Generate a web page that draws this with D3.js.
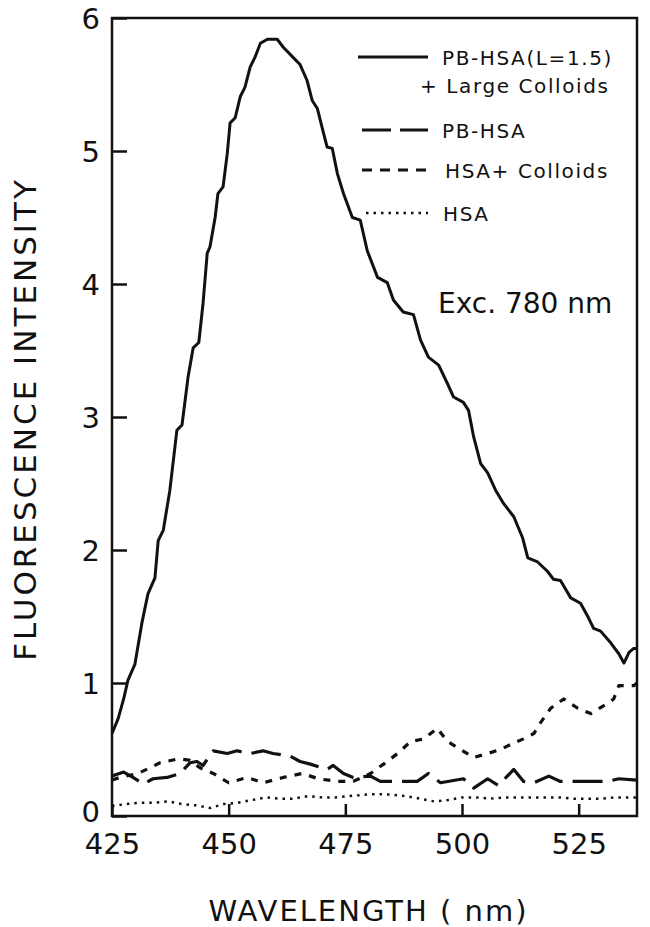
<!DOCTYPE html>
<html>
<head>
<meta charset="utf-8">
<script src="https://cdn.jsdelivr.net/npm/d3@7"></script>
<style>
  body { margin: 0; background: #fff; }
  text { font-family: "DejaVu Sans", sans-serif; fill: #111; }
</style>
</head>
<body>
<div id="chart"></div>
<script>
// solid curve: PB-HSA (L=1.5) + Large Colloids
var mainWl = [425, 426.3, 427.5, 428.4, 429.9, 431.4, 432.7, 434.2, 434.9, 436, 437.4, 438.9, 440, 441.3, 442.4, 443.6, 444.5,
  445.4, 446, 447.1, 447.7, 448.8, 449.7, 450.3, 451.4, 452.5, 453.5, 454.6, 455.7, 456.8, 458.3, 460.4, 461.7, 462.8,
  463.9, 465.3, 466.8, 467.9, 469, 470, 471.1, 472.2, 473.3, 474.6, 476.5, 478.2, 479.7, 481.9, 484, 485.3, 487.4,
  489.6, 491.1, 492.8, 495, 496.9, 498.2, 500.3, 501.4, 502.5, 504, 505.5, 507.2, 508.9, 511.1, 513, 514.1, 516.2,
  518.3, 519.6, 521.1, 523.3, 525.4, 527.1, 528.2, 529.7, 531.9, 533.6, 534.7, 535.8, 536.8, 537.5];
var mainVal = [0.62, 0.73, 0.88, 1.02, 1.14, 1.45, 1.67, 1.79, 2.07, 2.15, 2.45, 2.9, 2.94, 3.3, 3.52, 3.56, 3.85,
  4.23, 4.28, 4.5, 4.68, 4.73, 4.98, 5.21, 5.25, 5.41, 5.48, 5.63, 5.71, 5.81, 5.84, 5.84, 5.78, 5.74,
  5.7, 5.65, 5.53, 5.38, 5.32, 5.18, 5.03, 5.02, 4.83, 4.68, 4.5, 4.48, 4.25, 4.05, 4.01, 3.88, 3.79,
  3.77, 3.58, 3.45, 3.39, 3.25, 3.15, 3.11, 3.05, 2.85, 2.65, 2.58, 2.45, 2.35, 2.25, 2.09, 1.94, 1.91,
  1.84, 1.78, 1.77, 1.64, 1.6, 1.49, 1.41, 1.39, 1.3, 1.22, 1.15, 1.23, 1.26, 1.26];

// long dash: PB-HSA
var pbWl = [425, 427.5, 429.5, 431.7, 433.8, 436.8, 439.6, 441.7, 443.2, 444.5, 446.7, 449.7, 451.8, 454.6, 457.4, 459.5,
  463.2, 465.3, 467.5, 471.1, 472.4, 474.6, 476.7, 480.4, 482.5, 486.8, 490.4, 492.8, 495.4, 500.3, 502.5, 505.5,
  507.8, 511.1, 513.2, 515.4, 518.6, 521.1, 523.9, 527.6, 531.2, 533.6, 537.5];
var pbVal = [0.3, 0.33, 0.29, 0.24, 0.28, 0.29, 0.32, 0.4, 0.41, 0.38, 0.49, 0.47, 0.49, 0.47, 0.49, 0.47,
  0.45, 0.41, 0.39, 0.35, 0.38, 0.32, 0.29, 0.3, 0.26, 0.26, 0.26, 0.32, 0.25, 0.28, 0.21, 0.28,
  0.23, 0.35, 0.26, 0.25, 0.3, 0.26, 0.26, 0.26, 0.26, 0.28, 0.27];

// short dash: HSA + Colloids
var colWl = [425, 426.7, 430.6, 435.3, 439.2, 441.5, 444, 446.7, 450, 454, 457.4, 461.7, 465.8, 469.2, 473.3, 476.7,
  480.4, 483.2, 486.2, 489, 491.8, 494.7, 496.9, 499.7, 502.5, 505.5, 508.3, 511.1, 513.2, 515.4, 516.8, 519,
  521.8, 524.8, 527.6, 530.4, 532.5, 533.6, 536.8, 537.5];
var colVal = [0.27, 0.29, 0.32, 0.4, 0.43, 0.42, 0.36, 0.32, 0.25, 0.29, 0.25, 0.29, 0.32, 0.28, 0.26, 0.26,
  0.32, 0.39, 0.47, 0.56, 0.58, 0.66, 0.56, 0.5, 0.44, 0.47, 0.5, 0.55, 0.58, 0.62, 0.7, 0.81,
  0.88, 0.81, 0.77, 0.83, 0.88, 0.98, 0.98, 1.0];

// dotted: HSA
var hsaWl = [425, 428, 431, 434, 437, 440, 443, 446, 449, 452, 455, 458, 461, 464, 467, 470, 473, 476, 479, 482,
  485, 488, 491, 494, 497, 500, 503, 506, 509, 512, 515, 518, 521, 524, 527, 530, 533, 537.5];
var hsaVal = [0.075, 0.09, 0.1, 0.1, 0.11, 0.09, 0.08, 0.06, 0.09, 0.1, 0.12, 0.14, 0.13, 0.13, 0.15, 0.14, 0.14, 0.15, 0.16, 0.165,
  0.16, 0.15, 0.13, 0.11, 0.12, 0.14, 0.14, 0.13, 0.14, 0.14, 0.14, 0.14, 0.14, 0.13, 0.13, 0.13, 0.14, 0.14];

var xTicks = [425, 450, 475, 500, 525];
var yTicks = [0, 1, 2, 3, 4, 5, 6];

var margin = {top: 18, right: 13, bottom: 111, left: 112},
    width = 650 - margin.left - margin.right,
    height = 927 - margin.top - margin.bottom;

var x = d3.scaleLinear().domain([425, 537.5]).range([0, width]);
var y = d3.scaleLinear().domain([0, 6]).range([height, 0]);

var svg = d3.select("#chart")
    .append("svg")
    .attr("width", 650)
    .attr("height", 927)
    .append("g")
    .attr("transform", "translate(" + margin.left + "," + margin.top + ")");

// frame
svg.append("rect")
    .attr("width", width)
    .attr("height", height)
    .attr("fill", "none")
    .attr("stroke", "#111")
    .attr("stroke-width", 2.5);

// axes, ticks pointing inwards
var xAxis = d3.axisBottom(x).tickValues(xTicks).tickFormat(d3.format("d"))
    .tickSizeInner(-12).tickSizeOuter(0).tickPadding(17);
var yAxis = d3.axisLeft(y).tickValues(yTicks).tickFormat(d3.format("d"))
    .tickSizeInner(-15).tickSizeOuter(0).tickPadding(12);

var gx = svg.append("g")
    .attr("transform", "translate(0," + height + ")")
    .call(xAxis);
var gy = svg.append("g").call(yAxis);

[gx, gy].forEach(function(g) {
  g.select(".domain").remove();
  g.selectAll("line").attr("stroke", "#111").attr("stroke-width", 2.5);
  g.selectAll("text")
    .style("font-family", "DejaVu Sans")
    .style("font-size", "29px")
    .attr("fill", "#111");
});
gx.selectAll("text").attr("dy", "0.71em");
gy.selectAll("text").attr("dy", "0.36em");
// the zero label sits a touch higher so it clears "425"
gy.selectAll("text").filter(function(d) { return d === 0; }).attr("dy", "0.2em");

// labels
svg.append("text")
    .attr("x", width / 2 - 6)
    .attr("y", height + 105)
    .attr("text-anchor", "middle")
    .style("font-size", "29px")
    .style("letter-spacing", "2px")
    .text("WAVELENGTH ( nm)");

svg.append("text")
    .attr("transform", "translate(" + (-76) + "," + (height / 2 + 2) + ") rotate(-90)")
    .attr("text-anchor", "middle")
    .style("font-size", "31px")
    .style("letter-spacing", "3px")
    .text("FLUORESCENCE  INTENSITY");

svg.append("text")
    .attr("x", 326)
    .attr("y", 295)
    .style("font-size", "28px")
    .text("Exc. 780 nm");

// curves
var line = d3.line()
    .x(function(d) { return x(d[0]); })
    .y(function(d) { return y(d[1]); });

var series = [
  {wl: mainWl, val: mainVal, dash: null, w: 3},
  {wl: pbWl, val: pbVal, dash: "30,10", w: 3.2},
  {wl: colWl, val: colVal, dash: "7,8", w: 3.2},
  {wl: hsaWl, val: hsaVal, dash: "2.5,5", w: 2.5}
];

series.forEach(function(s) {
  var pts = d3.zip(s.wl, s.val);
  svg.append("path")
      .datum(pts)
      .attr("d", line)
      .attr("fill", "none")
      .attr("stroke", "#111")
      .attr("stroke-width", s.w)
      .attr("stroke-linejoin", "round")
      .attr("stroke-dasharray", s.dash);
});

// legend
var legend = svg.append("g").attr("transform", "translate(" + (-margin.left) + "," + (-margin.top) + ")");
var legendRows = [
  {y: 57, x1: 358, dash: null, w: 3, label: "PB-HSA(L=1.5)", tx: 442},
  {y: 130, x1: 362, dash: "29,9", w: 3, label: "PB-HSA", tx: 442},
  {y: 170, x1: 362, dash: "10,8", w: 3, label: "HSA+ Colloids", tx: 445},
  {y: 213, x1: 366, dash: "2.5,5", w: 2.5, label: "HSA", tx: 443}
];
legendRows.forEach(function(r) {
  legend.append("line")
      .attr("x1", r.x1).attr("x2", 428)
      .attr("y1", r.y).attr("y2", r.y)
      .attr("stroke", "#111")
      .attr("stroke-width", r.w)
      .attr("stroke-dasharray", r.dash);
  legend.append("text")
      .attr("x", r.tx)
      .attr("y", r.y + 8)
      .style("font-size", "20px")
      .style("letter-spacing", "1.6px")
      .text(r.label);
});
legend.append("text")
    .attr("x", 420)
    .attr("y", 93)
    .style("font-size", "20px")
    .style("letter-spacing", "1.6px")
    .text("+ Large  Colloids");
</script>
</body>
</html>
